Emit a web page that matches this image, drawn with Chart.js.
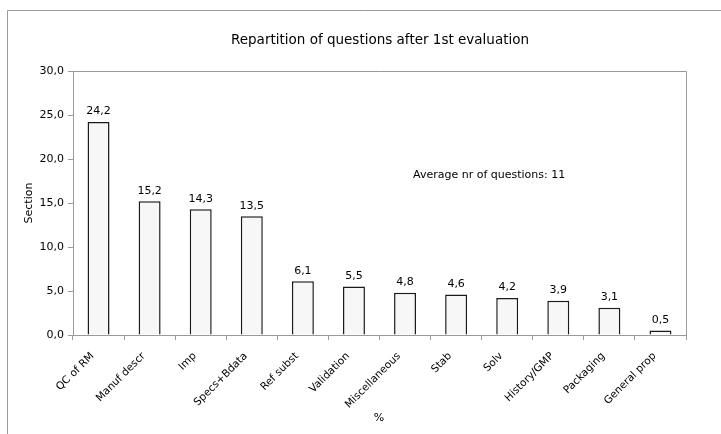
<!DOCTYPE html>
<html>
<head>
<meta charset="utf-8">
<script src="https://cdn.jsdelivr.net/npm/chart.js@4"></script>
<style>
  html, body { margin: 0; padding: 0; background: #fff; }
  #box { position: relative; width: 721px; height: 434px; }
</style>
</head>
<body>
<div id="box"><canvas id="c"></canvas></div>
<script>
// values
const categories = ['QC of RM', 'Manuf descr', 'Imp', 'Specs+Bdata', 'Ref subst', 'Validation',
  'Miscellaneous', 'Stab', 'Solv', 'History/GMP', 'Packaging', 'General prop'];
const percentages = [24.2, 15.2, 14.3, 13.5, 6.1, 5.5, 4.8, 4.6, 4.2, 3.9, 3.1, 0.5];
const yTicks = [0, 5, 10, 15, 20, 25, 30];
const chartTitle = 'Repartition of questions after 1st evaluation';
const note = 'Average nr of questions: 11';

const FONT = '"DejaVu Sans", Verdana, sans-serif';
const comma = (v) => v.toFixed(1).replace('.', ',');

// frame, titles, value labels and the note are drawn by hand on top of the chart
const decor = {
  id: 'decor',
  beforeDraw(chart) {
    const ctx = chart.ctx;
    ctx.save();
    ctx.strokeStyle = '#9a9a9a';
    ctx.lineWidth = 1;
    ctx.beginPath();
    ctx.moveTo(7.5, 434); ctx.lineTo(7.5, 10.5); ctx.lineTo(721, 10.5);
    ctx.stroke();
    ctx.restore();
  },
  afterDraw(chart) {
    const ctx = chart.ctx;
    const a = chart.chartArea;
    ctx.save();
    ctx.strokeStyle = '#9a9a9a';
    ctx.lineWidth = 1;
    ctx.beginPath();
    ctx.moveTo(a.left, a.top + 0.5); ctx.lineTo(a.right + 0.5, a.top + 0.5); ctx.lineTo(a.right + 0.5, a.bottom);
    ctx.stroke();

    ctx.fillStyle = '#000';
    ctx.textAlign = 'center';
    ctx.textBaseline = 'middle';
    ctx.font = '13.5px ' + FONT;
    ctx.fillText(chartTitle, 380, 40);

    ctx.font = '11px ' + FONT;
    const meta = chart.getDatasetMeta(0);
    meta.data.forEach((bar, i) => {
      ctx.textBaseline = 'bottom';
      ctx.fillText(comma(percentages[i]), bar.x, bar.y - 5);
    });

    ctx.textBaseline = 'middle';
    ctx.textAlign = 'left';
    ctx.fillText(note, 413, 175);

    ctx.textAlign = 'center';
    ctx.fillText('%', 379, 418);

    ctx.translate(29, (a.top + a.bottom) / 2);
    ctx.rotate(-Math.PI / 2);
    ctx.fillText('Section', 0, 0);
    ctx.restore();
  }
};

new Chart(document.getElementById('c'), {
  type: 'bar',
  data: {
    labels: categories,
    datasets: [{
      data: percentages,
      backgroundColor: '#f7f7f7',
      borderColor: '#1a1a1a',
      borderWidth: 1.5,
      barPercentage: 0.43,
      categoryPercentage: 1,
    }],
  },
  options: {
    responsive: true, maintainAspectRatio: false, animation: false,
    devicePixelRatio: 1,
    layout: { padding: { left: 0, top: 71, right: 35, bottom: 0 } },
    plugins: { legend: { display: false }, title: { display: false }, tooltip: { enabled: false } },
    scales: {
      x: {
        grid: { drawOnChartArea: false, color: '#9a9a9a', tickLength: 5, offset: true },
        border: { color: '#9a9a9a' },
        ticks: { color: '#000', font: { family: FONT, size: 10.5 }, minRotation: 45, maxRotation: 45, padding: 10, labelOffset: -6, autoSkip: false },
        afterFit: (s) => { s.height = 99; },
      },
      y: {
        min: 0, max: 30,
        grid: { drawOnChartArea: false, color: '#9a9a9a', tickLength: 5 },
        border: { color: '#9a9a9a' },
        ticks: { color: '#000', font: { family: FONT, size: 11 }, padding: 4, stepSize: 5, callback: (v) => comma(v) },
        afterBuildTicks: (s) => { s.ticks = yTicks.map((v) => ({ value: v })); },
        afterFit: (s) => { s.width = 73; },
      },
    },
  },
  plugins: [decor],
});
</script>
</body>
</html>
